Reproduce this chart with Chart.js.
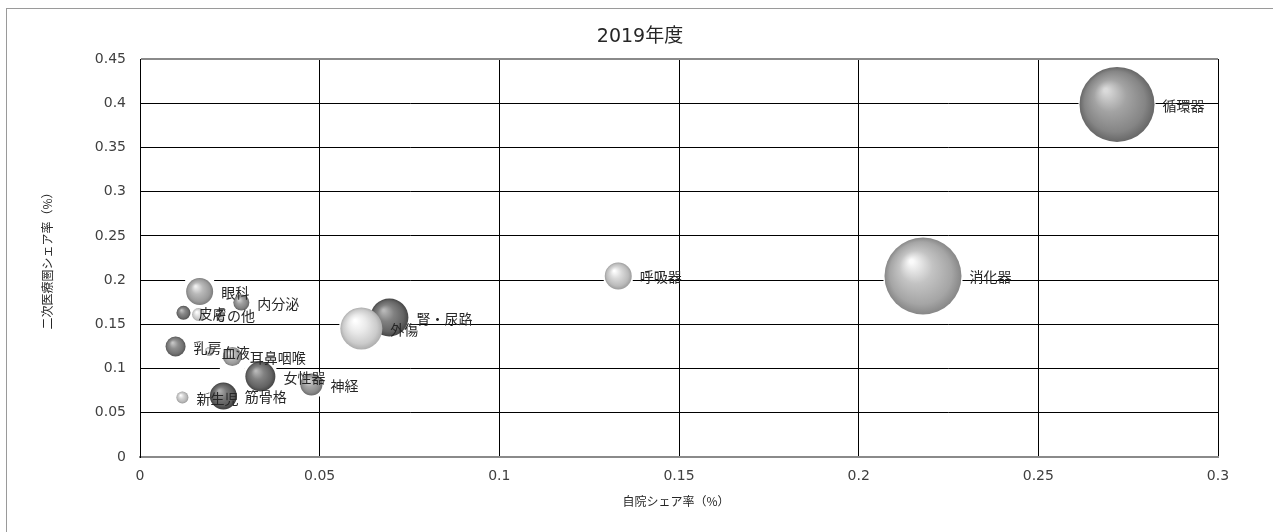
<!DOCTYPE html>
<html>
<head>
<meta charset="utf-8">
<script src="https://cdn.jsdelivr.net/npm/chart.js@4.4.1/dist/chart.umd.min.js"></script>
<style>
  html, body { margin: 0; padding: 0; background: #fff; }
  #wrap { width: 1273px; height: 532px; position: relative; }
</style>
</head>
<body>
<div id="wrap"><canvas id="c"></canvas></div>
<script>
/* 2019年度 — 診療科別 自院シェア率 × 二次医療圏シェア率 */
const departments = ['循環器', '消化器', '呼吸器', '腎・尿路', '外傷', '眼科', '内分泌', '皮膚',
  'その他', '乳房', '血液', '耳鼻咽喉', '女性器', '神経', '新生児', '筋骨格'];
const ownShare = [0.2719, 0.2179, 0.1331, 0.0694, 0.0616, 0.0166, 0.0282, 0.0121,
  0.0163, 0.0099, 0.0193, 0.0257, 0.0335, 0.0477, 0.0118, 0.0232];
const regionShare = [0.3986, 0.2047, 0.2047, 0.1577, 0.1453, 0.1871, 0.1747, 0.1630,
  0.1611, 0.1249, 0.1193, 0.1136, 0.0910, 0.0820, 0.0673, 0.0690];
const bubbleSize = [1406, 1482, 182, 361, 441, 182, 64, 49, 42, 100, 20, 90, 225, 121, 36, 182];
const xTicks = [0, 0.05, 0.1, 0.15, 0.2, 0.25, 0.3];
const yTicks = [0, 0.05, 0.1, 0.15, 0.2, 0.25, 0.3, 0.35, 0.4, 0.45];

/* styles : niveau de gris de chaque sphère */
const shades = [138, 170, 192, 104, 208, 160, 135, 112, 200, 118, 188, 160, 104, 144, 188, 96];

const NUM_FONT = '"DejaVu Sans", Verdana, sans-serif';
const JP_FONT = '"Noto Sans CJK JP", "Noto Sans", sans-serif';
const MAX_R = 38.5;
const maxSize = Math.max(...bubbleSize);
const radiusOf = s => MAX_R * Math.sqrt(s / maxSize);
const fmt = v => String(+(+v).toFixed(2));

const gray = g => { g = Math.max(0, Math.min(255, Math.round(g))); return `rgb(${g},${g},${g})`; };

function drawSphere(ctx, x, y, r, g) {
  const grad = ctx.createRadialGradient(x - r * 0.3, y - r * 0.38, r * 0.05, x, y, r);
  grad.addColorStop(0, gray(g + 80));
  grad.addColorStop(0.4, gray(g + 25));
  grad.addColorStop(0.8, gray(g - 5));
  grad.addColorStop(1, gray(g - 35));
  ctx.fillStyle = grad;
  ctx.beginPath(); ctx.arc(x, y, r, 0, Math.PI * 2); ctx.fill();
}

const sphereLook = {
  id: 'sphereLook',
  beforeDraw(chart) {
    const ctx = chart.ctx;
    ctx.save();
    ctx.strokeStyle = '#9a9a9a'; ctx.lineWidth = 1;
    ctx.strokeRect(6.5, 8.5, 1400, 700);
    ctx.restore();
  },
  afterDatasetsDraw(chart) {
    const ctx = chart.ctx;
    const pts = chart.getDatasetMeta(0).data;
    ctx.save();
    // fond blanc autour de chaque bulle (coupe le quadrillage comme dans Excel)
    ctx.fillStyle = '#fff';
    pts.forEach(p => {
      const r = p.options.radius + (p.options.radius < 10 ? 3 : 1);
      ctx.fillRect(p.x - r, p.y - r, 2 * r, 2 * r);
    });
    pts.forEach((p, i) => drawSphere(ctx, p.x, p.y, p.options.radius, shades[i]));
    ctx.fillStyle = '#262626';
    ctx.font = '14px ' + JP_FONT;
    ctx.textBaseline = 'middle';
    ctx.textAlign = 'left';
    pts.forEach((p, i) => ctx.fillText(departments[i], p.x + p.options.radius + 8, p.y + 1));
    ctx.restore();
  },
  afterDraw(chart) {
    const ctx = chart.ctx, a = chart.chartArea;
    ctx.save();
    ctx.fillStyle = '#262626';
    ctx.textAlign = 'center'; ctx.textBaseline = 'middle';
    ctx.font = '19px ' + NUM_FONT + ', ' + JP_FONT;
    ctx.fillText('2019年度', 640, 37);
    ctx.font = '12px ' + JP_FONT;
    ctx.fillText('自院シェア率（%）', (a.left + a.right) / 2 - 3, 501);
    ctx.translate(47, (a.top + a.bottom) / 2);
    ctx.rotate(-Math.PI / 2);
    ctx.fillText('二次医療圏シェア率（%）', 0, 0);
    ctx.restore();
  }
};

new Chart(document.getElementById('c'), {
  type: 'bubble',
  data: {
    datasets: [{
      data: departments.map((_, i) => ({ x: ownShare[i], y: regionShare[i], r: radiusOf(bubbleSize[i]) })),
      backgroundColor: 'rgba(0,0,0,0)', borderWidth: 0, hoverRadius: 0,
    }]
  },
  options: {
    responsive: true, maintainAspectRatio: false, animation: false, events: [],
    layout: { padding: { top: 59, right: 55, bottom: 0, left: 0 } },
    plugins: { legend: { display: false }, tooltip: { enabled: false }, title: { display: false } },
    scales: {
      x: {
        type: 'linear', min: xTicks[0], max: xTicks[xTicks.length - 1],
        afterBuildTicks: s => { s.ticks = xTicks.map(v => ({ value: v })); },
        afterFit: s => { s.height = 75; },
        ticks: { padding: 11, color: '#404040', font: { family: NUM_FONT, size: 14 }, callback: fmt, maxRotation: 0 },
        grid: { color: '#000', lineWidth: 1, drawTicks: false },
        border: { color: '#8a8a8a', width: 2 },
      },
      y: {
        type: 'linear', min: yTicks[0], max: yTicks[yTicks.length - 1],
        afterBuildTicks: s => { s.ticks = yTicks.map(v => ({ value: v })); },
        afterFit: s => { s.width = 140; },
        ticks: { padding: 14, color: '#404040', font: { family: NUM_FONT, size: 14 }, callback: fmt },
        grid: {
          drawTicks: false,
          color: c => (c.tick && c.tick.value === 0.45) ? '#8a8a8a' : '#000',
          lineWidth: c => (c.tick && c.tick.value === 0.45) ? 2 : 1,
        },
        border: { color: '#000', width: 1 },
      }
    }
  },
  plugins: [sphereLook]
});
</script>
</body>
</html>
